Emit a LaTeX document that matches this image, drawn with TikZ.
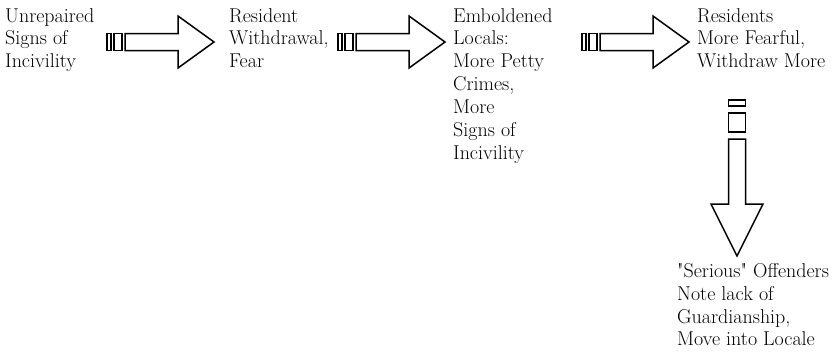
\documentclass[tikz,border=0pt]{standalone}
\usepackage{tikz}
\usetikzlibrary{calc, positioning}
\tikzset{
    stageText/.style={anchor=north west, align=left, inner sep=0pt, font=\fontsize{20}{22.9}\selectfont},
    flowLine/.style={draw, line width=1.5pt, line join=miter},
}
% [rotation]{tail}{bar}{gap}{box}{shaft}{head}
\newcommand{\drawFlow}[7][0]{
    \begin{scope}[shift={(#2)}, rotate=#1]
        \draw[flowLine] (0,-8.5) rectangle (#3,8.5);
        \draw[flowLine] ({#3+#4},-8.5) rectangle ({#3+#4+#5},8.5);
        \draw[flowLine] ({#3+2*#4+#5},-8.5) -- ++(#6,0) -- ++(0,-17.5) -- ++(#7,26) -- ++(-#7,26) -- ++(0,-17.5) -- ++(-#6,0) -- cycle;
    \end{scope}
}

\begin{document}
\begin{tikzpicture}[x=1pt, y=-1pt]
    \useasboundingbox (0,0) rectangle (835,357);

    \node[stageText] (signs) at (5, 8) {Unrepaired\\Signs of\\Incivility};
    \node[stageText] (withdraw) at (229, 8) {Resident\\Withdrawal,\\Fear};
    \node[stageText] (locals) at (453, 8) {Emboldened\\Locals:\\More Petty\\Crimes,\\More\\Signs of\\Incivility};
    \node[stageText] (fearful) at (697, 8) {Residents\\More Fearful,\\Withdraw More};
    \node[stageText] (offenders) at (677, 263) {\textquotedbl Serious\textquotedbl{} Offenders\\Note lack of\\Guardianship,\\Move into Locale};

    \coordinate (tail1) at (107, 42);
    \coordinate (tail2) at (338, 42);
    \coordinate (tail3) at (582, 42);
    \coordinate (tail4) at (737, 100);

    \drawFlow{tail1}{4}{3}{8}{53}{36}
    \drawFlow{tail2}{4}{3}{8}{53}{36}
    \drawFlow{tail3}{4}{3}{8}{53}{36}
    \drawFlow[-90]{tail4}{6}{7}{19}{65}{52}

\end{tikzpicture}
\end{document}
